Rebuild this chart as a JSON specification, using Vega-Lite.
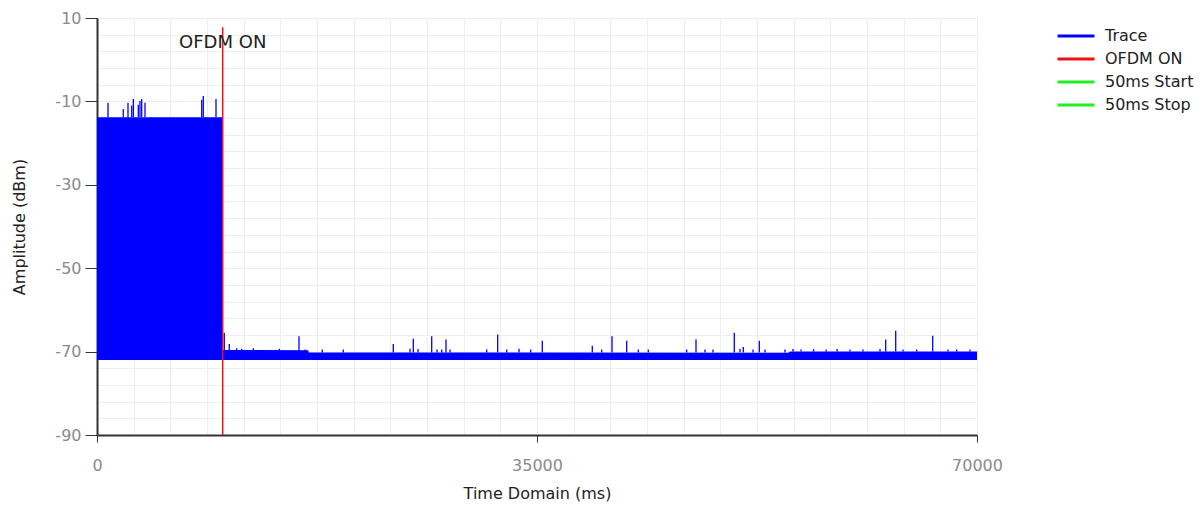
{
  "$schema": "https://vega.github.io/schema/vega-lite/v6.json",
  "width": 880,
  "height": 417,
  "autosize": {"type": "none"},
  "padding": {"left": 97, "top": 18, "right": 226, "bottom": 71},
  "background": "white",
  "config": {
    "view": {"stroke": null},
    "font": "DejaVu Sans"
  },
  "datasets": {
    "band": [
      {"series": "Trace", "t": 0, "lo": -72, "hi": -13.8},
      {"series": "Trace", "t": 9985, "lo": -72, "hi": -13.8},
      {"series": "Trace", "t": 10010, "lo": -72, "hi": -69.6},
      {"series": "Trace", "t": 16800, "lo": -72, "hi": -69.7},
      {"series": "Trace", "t": 16850, "lo": -72, "hi": -70.2},
      {"series": "Trace", "t": 55000, "lo": -72, "hi": -70.3},
      {"series": "Trace", "t": 55100, "lo": -72, "hi": -70.0},
      {"series": "Trace", "t": 70000, "lo": -72, "hi": -70.0}
    ],
    "spikes": [
      {"series": "Trace", "t": 875, "lo": -13.8, "hi": -10.3},
      {"series": "Trace", "t": 2090, "lo": -13.8, "hi": -11.8},
      {"series": "Trace", "t": 2466, "lo": -13.8, "hi": -10.3},
      {"series": "Trace", "t": 2760, "lo": -13.8, "hi": -11.0},
      {"series": "Trace", "t": 2890, "lo": -13.8, "hi": -9.4},
      {"series": "Trace", "t": 3285, "lo": -13.8, "hi": -10.8},
      {"series": "Trace", "t": 3420, "lo": -13.8, "hi": -9.9},
      {"series": "Trace", "t": 3555, "lo": -13.8, "hi": -9.4},
      {"series": "Trace", "t": 3818, "lo": -13.8, "hi": -10.3},
      {"series": "Trace", "t": 8330, "lo": -13.8, "hi": -9.6},
      {"series": "Trace", "t": 8455, "lo": -13.8, "hi": -8.7},
      {"series": "Trace", "t": 9466, "lo": -13.8, "hi": -9.4},
      {"series": "Trace", "t": 10126, "lo": -70, "hi": -65.5},
      {"series": "Trace", "t": 10524, "lo": -70, "hi": -68.2},
      {"series": "Trace", "t": 11110, "lo": -70, "hi": -69.2},
      {"series": "Trace", "t": 11510, "lo": -70, "hi": -69.3},
      {"series": "Trace", "t": 12435, "lo": -70, "hi": -69.2},
      {"series": "Trace", "t": 14500, "lo": -70, "hi": -69.3},
      {"series": "Trace", "t": 16068, "lo": -70.2, "hi": -66.3},
      {"series": "Trace", "t": 16545, "lo": -70.2, "hi": -69.5},
      {"series": "Trace", "t": 17921, "lo": -70.2, "hi": -69.5},
      {"series": "Trace", "t": 19591, "lo": -70.2, "hi": -69.5},
      {"series": "Trace", "t": 23569, "lo": -70.2, "hi": -68.2},
      {"series": "Trace", "t": 24898, "lo": -70.2, "hi": -69.3},
      {"series": "Trace", "t": 25160, "lo": -70.2, "hi": -66.9},
      {"series": "Trace", "t": 25534, "lo": -70.2, "hi": -69.4},
      {"series": "Trace", "t": 26624, "lo": -70.2, "hi": -66.3},
      {"series": "Trace", "t": 27045, "lo": -70.2, "hi": -69.5},
      {"series": "Trace", "t": 27419, "lo": -70.2, "hi": -69.5},
      {"series": "Trace", "t": 27761, "lo": -70.2, "hi": -67.1},
      {"series": "Trace", "t": 28079, "lo": -70.2, "hi": -69.5},
      {"series": "Trace", "t": 30999, "lo": -70.2, "hi": -69.5},
      {"series": "Trace", "t": 31873, "lo": -70.2, "hi": -65.9},
      {"series": "Trace", "t": 32590, "lo": -70.2, "hi": -69.5},
      {"series": "Trace", "t": 33568, "lo": -70.2, "hi": -69.3},
      {"series": "Trace", "t": 34499, "lo": -70.2, "hi": -69.5},
      {"series": "Trace", "t": 35421, "lo": -70.2, "hi": -67.4},
      {"series": "Trace", "t": 39398, "lo": -70.2, "hi": -68.6},
      {"series": "Trace", "t": 40147, "lo": -70.2, "hi": -69.5},
      {"series": "Trace", "t": 40966, "lo": -70.2, "hi": -66.3},
      {"series": "Trace", "t": 42135, "lo": -70.2, "hi": -67.4},
      {"series": "Trace", "t": 43058, "lo": -70.2, "hi": -69.5},
      {"series": "Trace", "t": 43854, "lo": -70.2, "hi": -69.5},
      {"series": "Trace", "t": 46906, "lo": -70.2, "hi": -69.5},
      {"series": "Trace", "t": 47648, "lo": -70.2, "hi": -67.1},
      {"series": "Trace", "t": 48364, "lo": -70.2, "hi": -69.5},
      {"series": "Trace", "t": 49000, "lo": -70.2, "hi": -69.5},
      {"series": "Trace", "t": 50694, "lo": -70.2, "hi": -65.5},
      {"series": "Trace", "t": 51148, "lo": -70.2, "hi": -69.3},
      {"series": "Trace", "t": 51410, "lo": -70.2, "hi": -68.9},
      {"series": "Trace", "t": 52182, "lo": -70.2, "hi": -69.5},
      {"series": "Trace", "t": 52683, "lo": -70.2, "hi": -67.4},
      {"series": "Trace", "t": 53136, "lo": -70.2, "hi": -69.5},
      {"series": "Trace", "t": 54727, "lo": -70.2, "hi": -69.5},
      {"series": "Trace", "t": 55364, "lo": -70.0, "hi": -69.4},
      {"series": "Trace", "t": 56000, "lo": -70.0, "hi": -69.5},
      {"series": "Trace", "t": 57000, "lo": -70.0, "hi": -69.4},
      {"series": "Trace", "t": 58000, "lo": -70.0, "hi": -69.5},
      {"series": "Trace", "t": 58873, "lo": -70.0, "hi": -69.4},
      {"series": "Trace", "t": 59898, "lo": -70.0, "hi": -69.5},
      {"series": "Trace", "t": 60932, "lo": -70.0, "hi": -69.5},
      {"series": "Trace", "t": 62284, "lo": -70.0, "hi": -69.4},
      {"series": "Trace", "t": 62737, "lo": -70.0, "hi": -67.1},
      {"series": "Trace", "t": 63533, "lo": -70.0, "hi": -65.0},
      {"series": "Trace", "t": 64114, "lo": -70.0, "hi": -69.5},
      {"series": "Trace", "t": 65204, "lo": -70.0, "hi": -69.5},
      {"series": "Trace", "t": 66476, "lo": -70.0, "hi": -66.2},
      {"series": "Trace", "t": 67693, "lo": -70.0, "hi": -69.5},
      {"series": "Trace", "t": 68386, "lo": -70.0, "hi": -69.5},
      {"series": "Trace", "t": 69443, "lo": -70.0, "hi": -69.5}
    ],
    "markers": [
      {"series": "OFDM ON", "t": 10000, "top": 7.8, "bottom": -90}
    ],
    "labels": [
      {"label": "OFDM ON", "t": 10000, "v": 4.0}
    ]
  },
  "layer": [
    {
      "data": {"name": "band"},
      "mark": {"type": "area", "opacity": 1, "interpolate": "linear"},
      "encoding": {
        "x": {
          "field": "t", "type": "quantitative",
          "scale": {"domain": [0, 70000], "nice": false, "zero": false},
          "axis": {
            "values": [0, 2917, 5833, 8750, 11667, 14583, 17500, 20417, 23333, 26250, 29167, 32083, 35000, 37917, 40833, 43750, 46667, 49583, 52500, 55417, 58333, 61250, 64167, 67083, 70000],
            "tickCount": 200,
            "labelExpr": "datum.value % 35000 === 0 ? toString(datum.value) : ''",
            "labelOverlap": false,
            "labelBound": false,
            "labelFlush": false,
            "labelFont": "DejaVu Sans",
            "labelFontSize": 16,
            "labelColor": "#8a8a8a",
            "labelPadding": 15,
            "tickSize": 7,
            "tickColor": "#333333",
            "tickOpacity": {"condition": {"test": "datum.value % 35000 === 0", "value": 1}, "value": 0},
            "domainColor": "#333333",
            "domainWidth": 2,
            "grid": true,
            "gridColor": "#eeeeee",
            "gridWidth": 1,
            "title": "Time Domain (ms)",
            "titleFont": "DejaVu Sans",
            "titleFontSize": 16,
            "titleFontWeight": "normal",
            "titleColor": "#222222",
            "titlePadding": 12
          }
        },
        "y": {
          "field": "hi", "type": "quantitative",
          "scale": {"domain": [-90, 10], "nice": false, "zero": false},
          "axis": {
            "values": [10, 6, 2, -2, -6, -10, -14, -18, -22, -26, -30, -34, -38, -42, -46, -50, -54, -58, -62, -66, -70, -74, -78, -82, -86, -90],
            "tickCount": 200,
            "labelExpr": "(datum.value + 90) % 20 === 0 ? toString(datum.value) : ''",
            "labelOverlap": false,
            "labelBound": false,
            "labelFlush": false,
            "labelFont": "DejaVu Sans",
            "labelFontSize": 16,
            "labelColor": "#8a8a8a",
            "labelPadding": 4,
            "tickSize": 12,
            "tickColor": "#333333",
            "tickOpacity": {"condition": {"test": "(datum.value + 90) % 20 === 0", "value": 1}, "value": 0},
            "domainColor": "#333333",
            "domainWidth": 2,
            "grid": true,
            "gridColor": "#eeeeee",
            "gridWidth": 1,
            "title": "Amplitude (dBm)",
            "titleFont": "DejaVu Sans",
            "titleFontSize": 16,
            "titleFontWeight": "normal",
            "titleColor": "#222222",
            "titlePadding": 27
          }
        },
        "y2": {"field": "lo"},
        "color": {
          "field": "series", "type": "nominal",
          "scale": {"domain": ["Trace", "OFDM ON", "50ms Start", "50ms Stop"], "range": ["#0000ff", "#ee1111", "#22ee22", "#22ee22"]},
          "legend": {
            "title": null,
            "orient": "none",
            "legendX": 968,
            "legendY": 7,
            "symbolType": "M-2,0H2",
            "symbolSize": 342,
            "symbolStrokeWidth": 3,
            "labelFont": "DejaVu Sans",
            "labelFontSize": 16,
            "labelColor": "#222222",
            "labelOffset": 18,
            "rowPadding": 4,
            "encode": {"symbols": {"update": {"stroke": {"scale": "color", "field": "value"}, "strokeWidth": {"value": 3}, "fillOpacity": {"value": 0}, "opacity": {"value": 1}}}}
          }
        }
      }
    },
    {
      "data": {"name": "spikes"},
      "mark": {"type": "rule", "strokeWidth": 1.3},
      "encoding": {
        "x": {"field": "t", "type": "quantitative"},
        "y": {"field": "hi", "type": "quantitative"},
        "y2": {"field": "lo"},
        "color": {"field": "series", "type": "nominal"}
      }
    },
    {
      "data": {"name": "markers"},
      "mark": {"type": "rule", "strokeWidth": 1.5},
      "encoding": {
        "x": {"field": "t", "type": "quantitative"},
        "y": {"field": "top", "type": "quantitative"},
        "y2": {"field": "bottom"},
        "color": {"field": "series", "type": "nominal"}
      }
    },
    {
      "data": {"name": "labels"},
      "mark": {"type": "text", "font": "DejaVu Sans", "fontSize": 18, "color": "#222222", "align": "center", "baseline": "middle"},
      "encoding": {
        "x": {"field": "t", "type": "quantitative"},
        "y": {"field": "v", "type": "quantitative"},
        "text": {"field": "label"}
      }
    }
  ]
}
